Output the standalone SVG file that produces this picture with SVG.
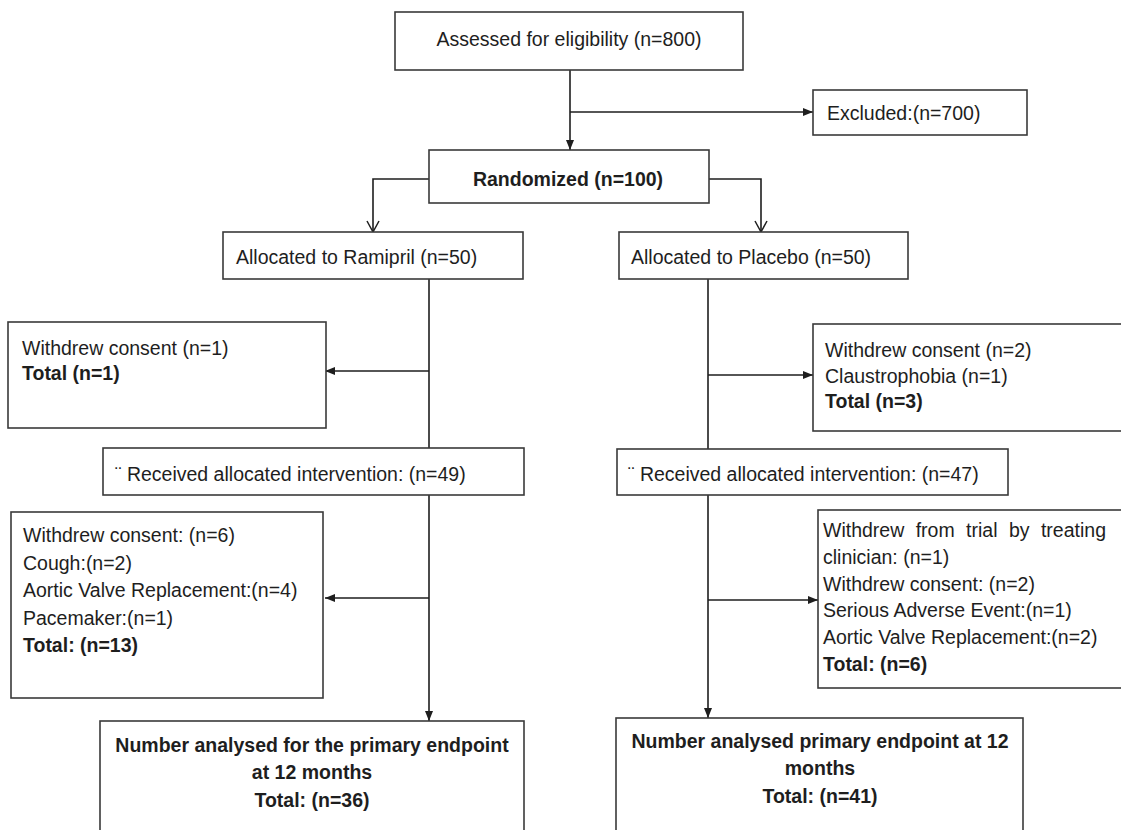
<svg xmlns="http://www.w3.org/2000/svg" width="1121" height="830" viewBox="0 0 1121 830">
<style>
.box{fill:#fff;stroke:#3a3a3a;stroke-width:1.6}
.t{font-family:"Liberation Sans",Arial,sans-serif;font-size:19.5px;fill:#1e1e1e}
.b{font-weight:bold}
.c{text-anchor:middle}
.ln{fill:none;stroke:#1e1e1e;stroke-width:1.6}
</style>
<defs>
<marker id="fa" markerWidth="11" markerHeight="10" refX="10" refY="5" orient="auto" markerUnits="userSpaceOnUse">
<path d="M0,1 L10,5 L0,9 Z" fill="#1e1e1e"/>
</marker>
<marker id="va" markerWidth="14" markerHeight="14" refX="12" refY="7" orient="auto" markerUnits="userSpaceOnUse">
<path d="M1,1 L12,7 L1,13" fill="none" stroke="#1e1e1e" stroke-width="1.5"/>
</marker>
</defs>
<rect width="1121" height="830" fill="#fff"/>
<g id="connectors">
<line class="ln" x1="570" y1="70" x2="570" y2="150" marker-end="url(#fa)"/>
<line class="ln" x1="570" y1="112" x2="813" y2="112" marker-end="url(#fa)"/>
<polyline class="ln" points="429,179 373,179 373,232" marker-end="url(#va)"/>
<polyline class="ln" points="709,179 761,179 761,232" marker-end="url(#va)"/>
<line class="ln" x1="429" y1="279" x2="429" y2="448"/>
<line class="ln" x1="429" y1="371" x2="325" y2="371" marker-end="url(#fa)"/>
<line class="ln" x1="708" y1="279" x2="708" y2="449"/>
<line class="ln" x1="708" y1="375" x2="813" y2="375" marker-end="url(#fa)"/>
<line class="ln" x1="429" y1="495" x2="429" y2="721" marker-end="url(#fa)"/>
<line class="ln" x1="429" y1="598" x2="325" y2="598" marker-end="url(#fa)"/>
<line class="ln" x1="708" y1="495" x2="708" y2="718" marker-end="url(#fa)"/>
<line class="ln" x1="708" y1="600" x2="818" y2="600" marker-end="url(#fa)"/>
</g>
<g id="assessed">
<rect class="box" x="395" y="12" width="348" height="58"/>
<text class="t c" x="569" y="46">Assessed for eligibility (n=800)</text>
</g>
<g id="excluded">
<rect class="box" x="813" y="90" width="214" height="45"/>
<text class="t" x="827" y="120">Excluded:(n=700)</text>
</g>
<g id="randomized">
<rect class="box" x="429" y="150" width="280" height="53"/>
<text class="t b c" x="568" y="186">Randomized (n=100)</text>
</g>
<g id="alloc-ramipril">
<rect class="box" x="223" y="232" width="300" height="47"/>
<text class="t" x="236" y="264">Allocated to Ramipril (n=50)</text>
</g>
<g id="alloc-placebo">
<rect class="box" x="619" y="232" width="289" height="47"/>
<text class="t" x="631" y="264">Allocated to Placebo (n=50)</text>
</g>
<g id="withdraw-ramipril-1">
<rect class="box" x="8" y="322" width="318" height="106"/>
<text class="t" x="22" y="355">Withdrew consent (n=1)</text>
<text class="t b" x="22" y="380">Total (n=1)</text>
</g>
<g id="withdraw-placebo-1">
<rect class="box" x="813" y="324" width="315" height="107"/>
<text class="t" x="825" y="357">Withdrew consent (n=2)</text>
<text class="t" x="825" y="383">Claustrophobia (n=1)</text>
<text class="t b" x="825" y="408">Total (n=3)</text>
</g>
<g id="received-ramipril">
<rect class="box" x="103" y="448" width="421" height="47"/>
<text class="t" x="115" y="481">¨ Received allocated intervention: (n=49)</text>
</g>
<g id="received-placebo">
<rect class="box" x="617" y="449" width="391" height="46"/>
<text class="t" x="628" y="481">¨ Received allocated intervention: (n=47)</text>
</g>
<g id="withdraw-ramipril-2">
<rect class="box" x="11" y="512" width="312" height="186"/>
<text class="t" x="23" y="542">Withdrew consent: (n=6)</text>
<text class="t" x="23" y="570">Cough:(n=2)</text>
<text class="t" x="23" y="597">Aortic Valve Replacement:(n=4)</text>
<text class="t" x="23" y="625">Pacemaker:(n=1)</text>
<text class="t b" x="23" y="652">Total: (n=13)</text>
</g>
<g id="withdraw-placebo-2">
<rect class="box" x="818" y="510" width="310" height="178"/>
<text class="t" x="823" y="537" word-spacing="6">Withdrew from trial by treating</text>
<text class="t" x="823" y="564">clinician: (n=1)</text>
<text class="t" x="823" y="591">Withdrew consent: (n=2)</text>
<text class="t" x="823" y="617">Serious Adverse Event:(n=1)</text>
<text class="t" x="823" y="644">Aortic Valve Replacement:(n=2)</text>
<text class="t b" x="823" y="671">Total: (n=6)</text>
</g>
<g id="analysed-ramipril">
<rect class="box" x="100" y="721" width="424" height="120"/>
<text class="t b c" x="312" y="752">Number analysed for the primary endpoint</text>
<text class="t b c" x="312" y="779">at 12 months</text>
<text class="t b c" x="312" y="807">Total: (n=36)</text>
</g>
<g id="analysed-placebo">
<rect class="box" x="616" y="718" width="407" height="120"/>
<text class="t b c" x="820" y="748">Number analysed primary endpoint at 12</text>
<text class="t b c" x="820" y="775">months</text>
<text class="t b c" x="820" y="803">Total: (n=41)</text>
</g>
</svg>
